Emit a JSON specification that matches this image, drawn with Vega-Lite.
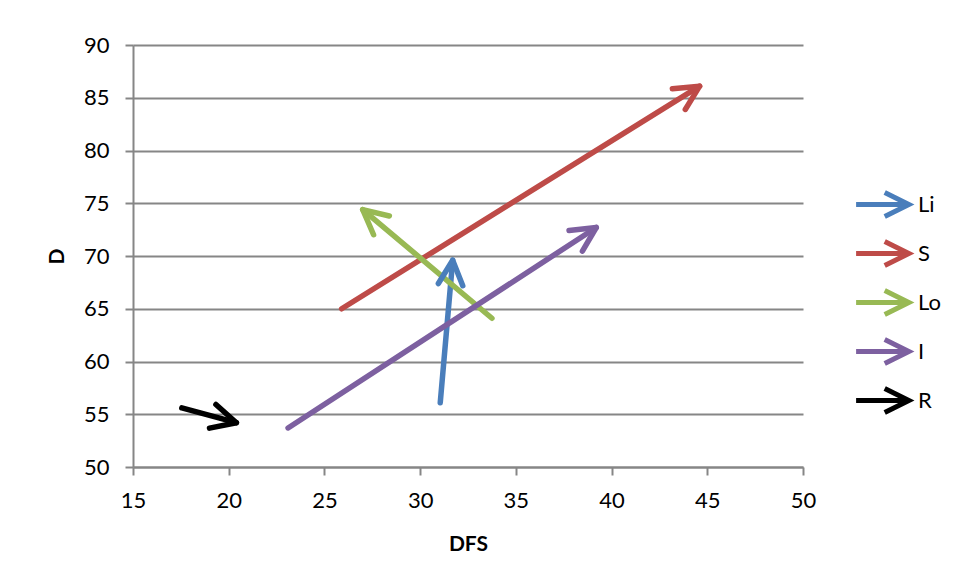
{
  "$schema": "https://vega.github.io/schema/vega-lite/v6.json",
  "autosize": "none",
  "padding": {"left": 133, "top": 45, "right": 152, "bottom": 114},
  "width": 670,
  "height": 422,
  "background": "white",
  "config": {
    "view": {"stroke": null},
    "font": "Lato",
    "axis": {
      "labelFont": "Lato",
      "labelFontSize": 22,
      "labelColor": "#000000",
      "labelFlush": false,
      "titleFont": "Lato",
      "titleFontSize": 21,
      "titleFontWeight": "bold",
      "titleColor": "#000000",
      "domainColor": "#868686",
      "domainWidth": 2,
      "tickColor": "#868686",
      "tickWidth": 2,
      "tickSize": 8,
      "gridColor": "#868686",
      "gridWidth": 2
    },
    "legend": {
      "labelFont": "Lato",
      "labelFontSize": 22,
      "labelColor": "#000000"
    }
  },
  "data": {
    "values": [
      {"series": "Li", "x": 31.05, "y": 56.1, "x2": 31.7, "y2": 69.6},
      {"series": "S", "x": 25.9, "y": 65.0, "x2": 44.6, "y2": 86.1},
      {"series": "Lo", "x": 33.75, "y": 64.1, "x2": 27.0, "y2": 74.4},
      {"series": "I", "x": 23.1, "y": 53.7, "x2": 39.2, "y2": 72.7},
      {"series": "R", "x": 17.55, "y": 55.6, "x2": 20.4, "y2": 54.2}
    ]
  },
  "transform": [
    {"calculate": "atan2(-(datum.y2 - datum.y) * 10.55, (datum.x2 - datum.x) * 19.143) * 180 / PI", "as": "heading"}
  ],
  "layer": [
    {
      "mark": {"type": "rule", "strokeWidth": 5.5, "strokeCap": "round"},
      "encoding": {
        "x": {
          "field": "x", "type": "quantitative",
          "scale": {"domain": [15, 50], "nice": false, "zero": false},
          "axis": {"values": [15, 20, 25, 30, 35, 40, 45, 50], "grid": false, "title": "DFS", "labelPadding": 15, "titlePadding": 22}
        },
        "y": {
          "field": "y", "type": "quantitative",
          "scale": {"domain": [50, 90], "nice": false, "zero": false},
          "axis": {"values": [50, 55, 60, 65, 70, 75, 80, 85, 90], "grid": true, "title": "D", "labelPadding": 16, "titlePadding": 16}
        },
        "x2": {"field": "x2"},
        "y2": {"field": "y2"},
        "color": {
          "field": "series", "type": "nominal",
          "scale": {"domain": ["Li", "S", "Lo", "I", "R"], "range": ["#4A7EBB", "#BE4B48", "#98B954", "#7D60A0", "#000000"]},
          "legend": {
            "title": null,
            "orient": "none",
            "legendX": 725,
            "legendY": 135,
            "padding": 0,
            "rowPadding": 2,
            "symbolType": "M -1.2 0 L 1.2 0 M 0.1 -0.55 L 1.2 0 L 0.1 0.55",
            "symbolSize": 1936,
            "symbolStrokeWidth": 5,
            "symbolFillColor": "transparent",
            "labelOffset": 11
          }
        }
      }
    },
    {
      "mark": {"type": "point", "filled": false, "strokeWidth": 5.5, "strokeCap": "round", "strokeJoin": "round", "size": 2400, "opacity": 1, "shape": "M -1 -0.5 L 0 0 L -1 0.5"},
      "encoding": {
        "x": {"field": "x2", "type": "quantitative"},
        "y": {"field": "y2", "type": "quantitative"},
        "angle": {"field": "heading", "type": "quantitative", "scale": null},
        "color": {"field": "series", "type": "nominal"}
      }
    }
  ]
}
